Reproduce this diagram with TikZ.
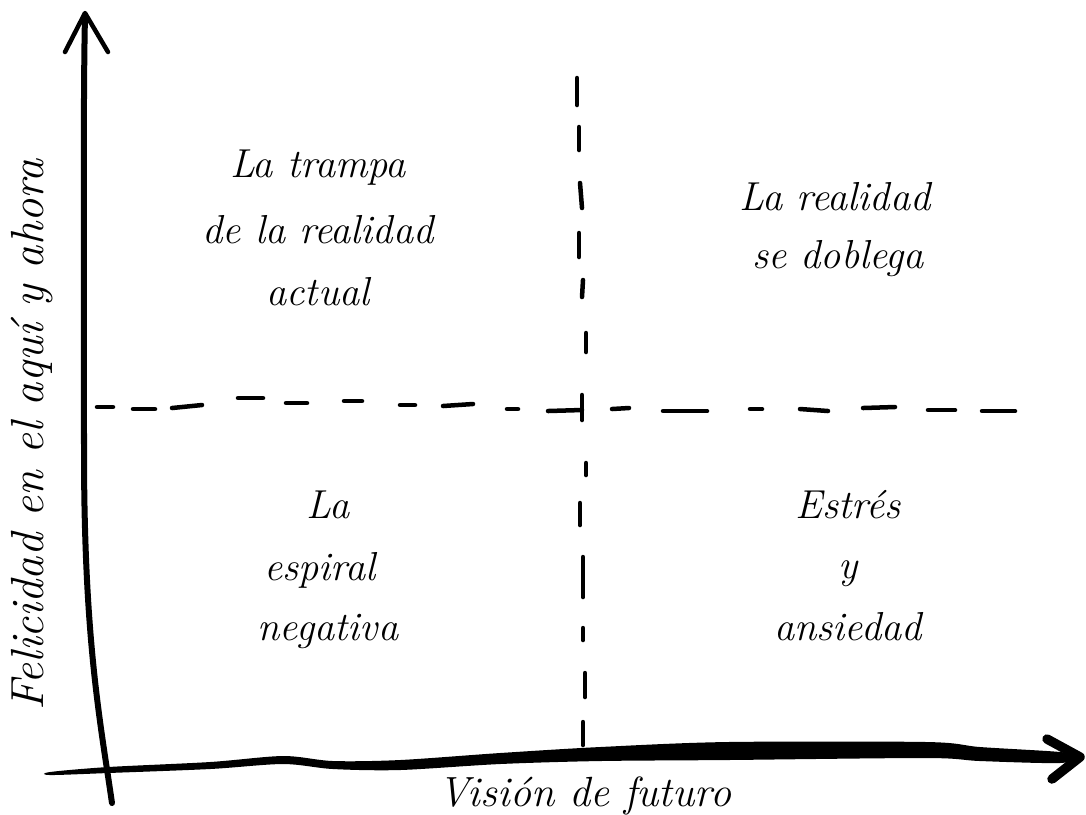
\documentclass[tikz,border=0pt]{standalone}
\begin{document}
\begin{tikzpicture}[x=0.01cm,y=-0.01cm]
\tikzset{
  axisline/.style={line width=0.06cm, line cap=round, line join=round},
  headline/.style={line width=0.045cm, line cap=round, line join=round},
  dashseg/.style={line width=0.045cm, line cap=round},
  lbl/.style={font=\fontsize{11.5}{14}\selectfont\itshape, anchor=base, inner sep=0pt},
}
\useasboundingbox (0,0) rectangle (1086,814);
% vertical axis
\draw[axisline] (112,803) .. controls (100,720) and (84,640) .. (84,450) .. controls (84,300) and (83,100) .. (85,16);
\draw[headline] (65,52) -- (85,13) -- (108,52);
% horizontal axis (tapered stroke)
\fill plot[smooth cycle, tension=0.5] coordinates {
 (50,772) (108,767) (210,762) (283,756) (333,761) (400,760) (500,753) (600,747)
 (727,742) (927,742) (980,747) (1060,752) (1078,757)
 (1060,763) (980,761) (927,758) (727,760) (600,761) (500,764) (400,770)
 (333,769) (283,764) (210,769) (108,773) (50,775)};
\draw[line width=0.095cm, line cap=round, line join=round] (1047,739) -- (1080,757) -- (1052,779);
% horizontal dashed line
\foreach \a/\b/\c/\d in {97/407/113/407, 133/409/155/409, 172/408/202/405, 238/398/263/398,
  286/403/307/403, 344/401/362/401, 400/405/415/405, 443/406/473/404, 507/409/518/409,
  548/411/582/410, 612/409/629/408, 663/411/707/411, 750/409/762/409, 800/409/828/411,
  863/408/895/407, 928/410/955/410, 982/411/1015/411}
  \draw[dashseg] (\a,\b) -- (\c,\d);
% vertical dashed line
\foreach \a/\b/\c/\d in {577/78/577/105, 579/127/579/150, 580/183/582/208, 579/233/579/257,
  583/280/582/297, 586/333/586/352, 582/395/582/420, 586/463/586/475, 580/503/580/525,
  583/557/583/597, 583/628/583/640, 585/673/585/697, 583/722/583/745}
  \draw[dashseg] (\a,\b) -- (\c,\d);
% quadrant texts
\node[lbl] (q1a) at (318,177) {La trampa};
\node[lbl] (q1b) at (318,243) {de la realidad};
\node[lbl] (q1c) at (318,305) {actual};
\node[lbl] (q2a) at (835,210) {La realidad};
\node[lbl] (q2b) at (838,268) {se doblega};
\node[lbl] (q3a) at (328,518) {La};
\node[lbl] (q3b) at (320,580) {espiral};
\node[lbl] (q3c) at (328,640) {negativa};
\node[lbl] (q4a) at (848,518) {Estrés};
\node[lbl] (q4b) at (848,578) {y};
\node[lbl] (q4c) at (848,640) {ansiedad};
% axis labels
\node[lbl, font=\fontsize{12}{14}\selectfont\itshape] (xl) at (585,806) {Visión de futuro};
\node[lbl, font=\fontsize{13.2}{15}\selectfont\itshape, rotate=90] (yl) at (44,435) {Felicidad en el aquí y ahora};
\end{tikzpicture}
\end{document}
